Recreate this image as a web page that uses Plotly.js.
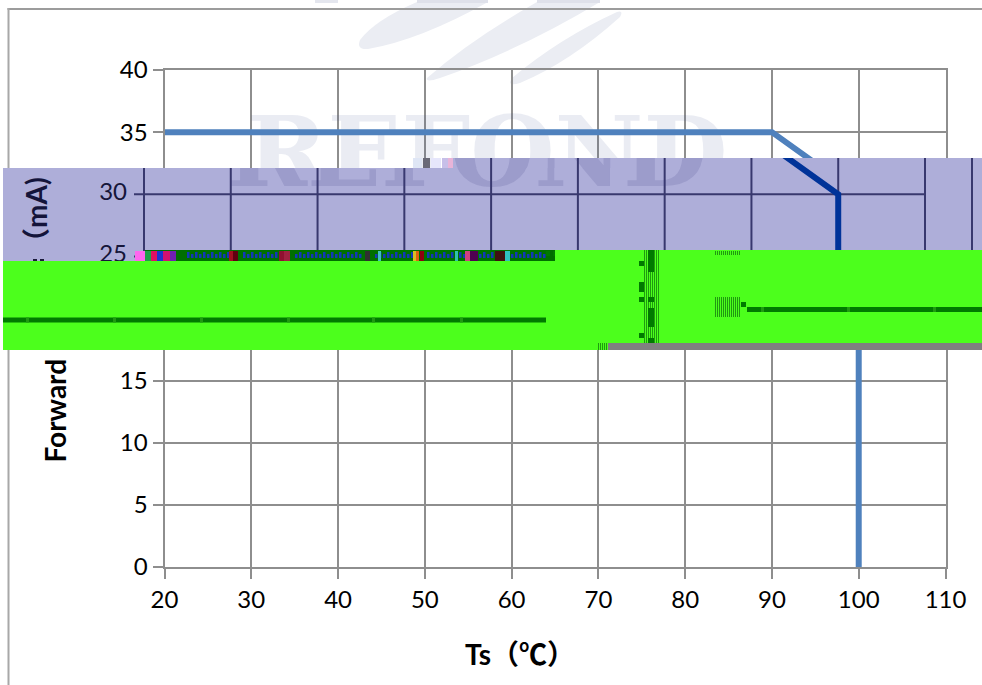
<!DOCTYPE html>
<html><head><meta charset="utf-8">
<script src="https://cdn.plot.ly/plotly-3.0.1.min.js"></script>
<style>html,body{margin:0;padding:0;background:#fff}</style>
</head><body><div id="chart" style="width:982px;height:685px"></div>
<script>
// ---- chart data ----
const tempC = [20, 90, 100, 100];
const currentMa = [35, 35, 30, 0];
const xTicks = [20, 30, 40, 50, 60, 70, 80, 90, 100, 110];
const yTicks = [0, 5, 10, 15, 20, 25, 30, 35, 40];
const bandYTicks = [30, 25];
const watermarkText = 'REFOND';

// ---- layout constants (pixels of the 982x685 page) ----
const W = 982, H = 685;
const plotL = 164.5, plotR = 945.5, plotT = 70, plotB = 567;
const shift = 20.5;
const pxX = (plotR - plotL) / 90, pxY = (plotB - plotT) / 40;
const bandX = p => 20 + (p + shift - plotL) / pxX;
const valY = p => (plotB - p) / pxY;
const domX = (a, b) => [a / W, b / W];
const domY = (top, bot) => [1 - bot / H, 1 - top / H];

const font = 'Lato, Carlito, "Noto Sans CJK SC", sans-serif';
const titleFont = 'Lato, "Noto Sans CJK SC", sans-serif';
const wmFont = '"DejaVu Serif", serif';
const gridCol = '#8e8e8e', bandGrid = '#38386e', lav = '#aeaed9', green = '#4cff1c';
const dark = '#007a00', mid = '#1f9a10', blue = '#1238b8';
const wmX = 57.2, wmY = 32.6, wmSize = 97;

// ---- band traces, drawn on shifted hidden axes through the same data ----
function bandTraces(xa, ya) {
  const gx = [], gy = [];
  const yLo = valY(262), yHi = valY(150);
  xTicks.concat([bandX(972)]).forEach(t => { gx.push(t, t, null); gy.push(yLo, yHi, null); });
  bandYTicks.forEach(t => { gx.push(bandX(134), 110, null); gy.push(t, t, null); });
  return [
    {type:'scatter', mode:'lines', x:gx, y:gy, xaxis:xa, yaxis:ya, line:{color:bandGrid,width:2}, hoverinfo:'skip', showlegend:false},
    {type:'scatter', mode:'text', x:[wmX], y:[wmY], text:[watermarkText], xaxis:xa, yaxis:ya, textposition:'middle center',
     textfont:{family:wmFont, size:wmSize, weight:700, color:'rgba(60,60,130,0.16)'}, hoverinfo:'skip', showlegend:false},
    {type:'scatter', mode:'lines', x:tempC, y:currentMa, xaxis:xa, yaxis:ya, line:{color:'#003399',width:6}, hoverinfo:'skip', showlegend:false},
    {type:'scatter', mode:'text', x:bandYTicks.map(() => bandX(127)), y:bandYTicks, text:bandYTicks.map(String), xaxis:xa, yaxis:ya, textposition:'middle left',
     textfont:{family:font, size:24, color:'#16163a'}, hoverinfo:'skip', showlegend:false}
  ];
}

const traces = [
  {type:'scatter', mode:'text', x:[wmX], y:[wmY], text:[watermarkText], textposition:'middle center',
   textfont:{family:wmFont, size:wmSize, weight:700, color:'rgba(60,80,150,0.11)'}, hoverinfo:'skip', showlegend:false},
  {type:'scatter', mode:'lines', x:tempC, y:currentMa, line:{color:'#4f81bd',width:6}, hoverinfo:'skip', showlegend:false}
].concat(bandTraces('x2','y2'), bandTraces('x3','y3'));

// ---- decoration helpers ----
const rect = (x0,y0,x1,y1,color,layer) => ({type:'rect', xref:'paper', yref:'paper', x0:x0/W, x1:x1/W, y0:1-y0/H, y1:1-y1/H,
  fillcolor:color, line:{width:0}, layer:layer||'above'});
const leaf = d => ({type:'path', xref:'paper', yref:'paper', path:d.replace(/(-?[\d.]+) (-?[\d.]+)/g, (m,a,b) => (a/W)+' '+(1-b/H)),
  fillcolor:'#ebedf3', line:{width:0}, layer:'below'});
const stripes = (x0,y0,x1,y1) => { for (let x = x0; x < x1; x += 2) shapes.push(rect(x,y0,x+1,y1,mid)); };

const shapes = [];
// watermark leaves
shapes.push(leaf('M 360 40 Q 375 20 417 2 L 488 2 Q 420 40 368 49 Q 356 50 360 40 Z'));
shapes.push(leaf('M 427 78 Q 470 40 537 2 L 600 2 Q 520 50 440 78 Q 425 83 427 78 Z'));
shapes.push(leaf('M 512 78 Q 560 38 617 12 Q 624 10 620 17 Q 570 62 520 83 Q 506 87 512 78 Z'));
shapes.push(rect(315,0,338,3,'#e4e6ee','below'));
shapes.push(rect(417,0,488,3,'#dfe1ea','below'));
shapes.push(rect(537,0,600,3,'#dfe1ea','below'));
// page frame
shapes.push(rect(7.5,8,982,10,'#9c9c9c','below'));
shapes.push(rect(7.5,8,9.5,685,'#a8a8a8','below'));
// lavender band beneath the band subplots' own traces
[['x2','y2'],['x3','y3']].forEach(([xa,ya]) => shapes.push({type:'rect', xref:xa, yref:ya, x0:bandX(0), x1:bandX(W), y0:valY(270), y1:valY(150),
  fillcolor:lav, line:{width:0}, layer:'below'}));
// speck on the top edge of the band
[[413,422,'#dfe6f5'],[423,430,'#6a6a78'],[431,441,'#e6e6fb'],[442,448,'#c7bfe8'],[448,453,'#e8b4d8']].forEach(s => shapes.push(rect(s[0],158,s[1],168,s[2])));
// noisy strip
shapes.push(rect(145,250,555,261,'#006f00'));
for (let x = 187; x < 545; x += 4) {
  if ((x > 228 && x < 240) || (x > 278 && x < 292) || (x > 362 && x < 374) || (x > 412 && x < 424)) continue;
  shapes.push(rect(x,252+(x%8===3?0:2),x+2.5,258,blue));
}
[[135,145,'#ff66ee'],[145,151,'#1fa04a'],[151,157,'#e01060'],[157,163,'#2030d0'],[163,170,'#d01070'],[170,176,'#7020b0'],
 [229,233,'#a01020'],[233,238,'#600010'],[279,284,'#901030'],[284,290,'#a02040'],[365,370,'#303030'],
 [413,416,'#d8c020'],[416,419,'#e06010'],[420,424,'#900010'],[378,381,'#40c0c0'],[455,458,'#30c0b0'],
 [465,470,'#d04080'],[470,478,'#500050'],[495,505,'#401010'],[505,510,'#30c0c0']
].forEach(s => shapes.push(rect(s[0],251,s[1],261,s[2])));
shapes.push(rect(33,259,37,261.5,'#1a1a3a'));
shapes.push(rect(40,259,44,261.5,'#1a1a3a'));
// green blocks
shapes.push(rect(3,261,982,343,green));
shapes.push(rect(555,250,982,261,green));
shapes.push(rect(3,343,608,350,green));
shapes.push(rect(608,343,982,350,'#808080'));
stripes(598,343,608,350);
[[546,550],[553,555]].forEach(s => shapes.push(rect(s[0],251,s[1],256,dark)));
// dark rules on the green
shapes.push(rect(3,317.5,546,322.5,dark));
[26,113,200,287,372,460].forEach(x => shapes.push(rect(x,317.5,x+3,322.5,mid)));
shapes.push(rect(747,307,982,312,dark));
[761,847,933].forEach(x => shapes.push(rect(x,307,x+3,312,mid)));
// vertical glitch column
stripes(644,250,659,343);
[[250,272],[297,302],[308,327],[338,343]].forEach(s => shapes.push(rect(648,s[0],654,s[1],dark)));
[[261,266],[282,292],[297,302],[333,338]].forEach(s => shapes.push(rect(639,s[0],644,s[1],dark)));
// right-hand dither blocks
stripes(715,251,741,255);
stripes(715,297,741,317);
shapes.push(rect(741,302,746,307,dark));

const annotations = [
  {xref:'paper', yref:'paper', x:54/W, y:1-410.5/H, text:'Forward', showarrow:false, textangle:-90, xanchor:'center', yanchor:'middle',
   font:{family:titleFont, size:28, weight:700, color:'#000'}},
  {xref:'paper', yref:'paper', x:36/W, y:1-217/H, text:'（mA)', showarrow:false, textangle:-90, xanchor:'center', yanchor:'middle',
   font:{family:titleFont, size:28, weight:700, color:'#14143a'}},
  {xref:'paper', yref:'paper', x:519.5/W, y:1-654/H, text:'Ts（℃）', showarrow:false, xanchor:'center', yanchor:'middle',
   font:{family:titleFont, size:28, weight:700, color:'#000'}}
];

const hiddenAxis = {visible:false, fixedrange:true};
const mainAxis = {showgrid:true, gridcolor:gridCol, gridwidth:2, showline:true, mirror:true, linecolor:gridCol, linewidth:2,
  ticks:'outside', ticklen:10, tickwidth:2, tickcolor:gridCol, zeroline:false, tickmode:'array',
  tickfont:{family:font,size:24,color:'#000'}, automargin:false};
const layout = {
  width:W, height:H, margin:{l:0,r:0,t:0,b:0,pad:0}, paper_bgcolor:'#fff', plot_bgcolor:'rgba(0,0,0,0)', showlegend:false,
  font:{family:font, color:'#000'},
  xaxis:Object.assign({domain:domX(plotL,plotR), range:[20,110], tickvals:xTicks, ticktext:xTicks.map(String)},mainAxis),
  yaxis:Object.assign({domain:domY(plotT,plotB), range:[0,40], tickvals:yTicks, ticktext:yTicks.map(String)},mainAxis),
  xaxis2:Object.assign({domain:domX(3,W), range:[bandX(3),bandX(W)], anchor:'y2'},hiddenAxis),
  yaxis2:Object.assign({domain:domY(168,261), range:[valY(261),valY(168)], anchor:'x2'},hiddenAxis),
  xaxis3:Object.assign({domain:domX(453,W), range:[bandX(453),bandX(W)], anchor:'y3'},hiddenAxis),
  yaxis3:Object.assign({domain:domY(158,168), range:[valY(168),valY(158)], anchor:'x3'},hiddenAxis),
  shapes:shapes, annotations:annotations
};
Plotly.newPlot('chart', traces, layout, {staticPlot:true, displayModeBar:false});
</script></body></html>
